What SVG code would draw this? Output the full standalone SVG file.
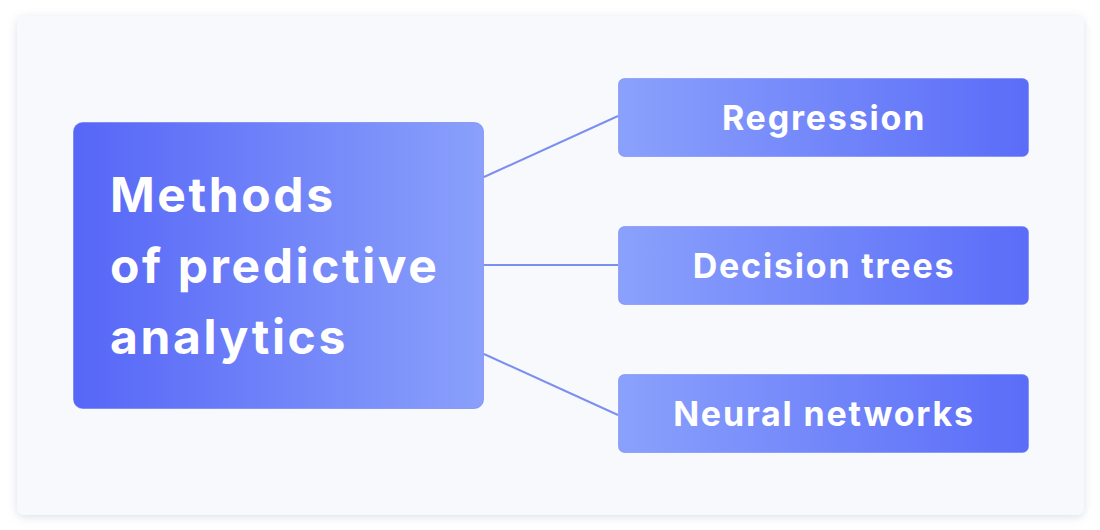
<svg xmlns="http://www.w3.org/2000/svg" width="1100" height="530" viewBox="0 0 1100 530">
<defs>
<linearGradient id="gMain" x1="0" y1="0" x2="1" y2="0">
<stop offset="0" stop-color="#5666f7"/>
<stop offset="1" stop-color="#8aa0fb"/>
</linearGradient>
<linearGradient id="gItem" x1="0" y1="0" x2="1" y2="0">
<stop offset="0" stop-color="#8aa1fc"/>
<stop offset="1" stop-color="#5b6cf8"/>
</linearGradient>
<filter id="sh" x="-5%" y="-5%" width="110%" height="115%">
<feDropShadow dx="0" dy="2" stdDeviation="4" flood-color="#8a96b8" flood-opacity="0.3"/>
</filter>
<style>
.main{fill:url(#gMain);stroke:#5a6cf0;stroke-opacity:0.5;stroke-width:1}
.item{fill:url(#gItem);stroke:#6a7cf5;stroke-opacity:0.5;stroke-width:1}
.t1{font-family:Inter,"Liberation Sans",sans-serif;font-weight:700;font-size:48px;fill:#ffffff;letter-spacing:2.6px}
.t2{font-family:Inter,"Liberation Sans",sans-serif;font-weight:700;font-size:34px;fill:#ffffff;letter-spacing:1.8px;text-anchor:middle}
.conn{stroke:#7b8ff0;stroke-width:2;fill:none}
</style>
</defs>
<rect width="1100" height="530" fill="#ffffff"/>
<rect x="17" y="16" width="1067" height="499" rx="7" fill="#f8f9fd" filter="url(#sh)"/>
<g id="connectors">
<line class="conn" x1="484" y1="177" x2="618" y2="116"/>
<line class="conn" x1="484" y1="265" x2="618" y2="265"/>
<line class="conn" x1="484" y1="354" x2="618" y2="415"/>
</g>
<g id="main">
<rect class="main" x="73.5" y="122.5" width="410" height="286" rx="9"/>
<text class="t1" x="110" y="212">Methods</text>
<text class="t1" x="110" y="283">of predictive</text>
<text class="t1" x="110" y="354">analytics</text>
</g>
<g id="regression">
<rect class="item" x="618.5" y="78.5" width="410" height="78" rx="6"/>
<text class="t2" x="824" y="130">Regression</text>
</g>
<g id="decision-trees">
<rect class="item" x="618.5" y="226.5" width="410" height="78" rx="6"/>
<text class="t2" x="824" y="278">Decision trees</text>
</g>
<g id="neural-networks">
<rect class="item" x="618.5" y="374.5" width="410" height="78" rx="6"/>
<text class="t2" x="824" y="426">Neural networks</text>
</g>
</svg>
